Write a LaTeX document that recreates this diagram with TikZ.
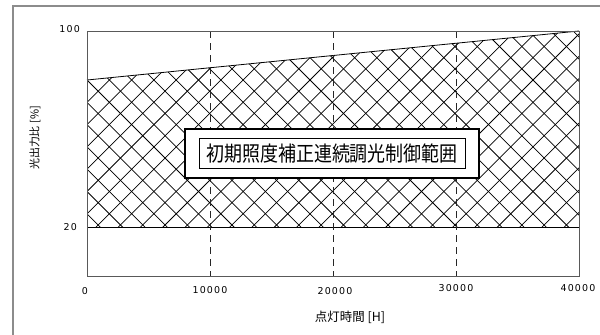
\documentclass[tikz,border=0pt]{standalone}
\usepackage{fontspec}
\newfontfamily\jpfont{Noto Sans CJK JP}
\newfontfamily\boxfont[FakeStretch=0.86]{Noto Sans CJK JP}
\newfontfamily\numfont[LetterSpace=12]{DejaVu Sans}
\usetikzlibrary{positioning}

\begin{document}
\begin{tikzpicture}[x=1bp, y=1bp,
    tick/.style={font=\numfont\fontsize{9.5}{10}\selectfont, inner sep=0pt},
    axislabel/.style={font=\jpfont\fontsize{12.5}{13}\selectfont, inner sep=0pt},
    hatchline/.style={black, line width=0.75bp},
    gridline/.style={black!85, line width=0.8bp, dash pattern=on 7bp off 5bp},
    axisbox/.style={draw=black!65, line width=0.9bp}]
    \useasboundingbox (-87,-58) rectangle (513,276);
    \draw[black!45, line width=1.3bp] (-74,-80) rectangle (530,270);

    % dimming range, cross hatched
    \begin{scope}
      \clip (0,49) -- (492,49) -- (492,245) -- (0,196) -- cycle;
      \foreach \k in {-12,...,34} {
        \draw[hatchline] (\k*22.3+4.7,0) -- ++(300,300);
        \draw[hatchline] (\k*22.3+17.6,0) -- ++(-300,300);
      }
    \end{scope}
    \draw[black, line width=0.8bp] (0,49) -- (492,49);
    \draw[black, line width=0.8bp] (0,196) -- (492,245);

    \foreach \x in {123,246,369}
      \draw[gridline] (\x,245) -- (\x,0);
    \draw[axisbox] (0,0) rectangle (492,245);

    \node[tick, anchor=east] (y100) at (-7,247) {100};
    \node[tick, anchor=east] (y20) at (-10,49) {20};

    \node[tick] (x0) at (-2,-15) {0};
    \node[tick] (x10) at (123,-14) {10000};
    \node[tick] (x20) at (248,-15) {20000};
    \node[tick] (x30) at (369,-12) {30000};
    \node[tick] (x40) at (491,-12) {40000};

    \node[axislabel] (xtitle) at (263,-41) {点灯時間 [H]};
    \node[axislabel, font=\jpfont\fontsize{11}{12}\selectfont, rotate=90] (ytitle) at (-52,138) {光出力比 [\%]};

    \node[draw, fill=white, line width=1.8bp, minimum width=294bp, minimum height=49bp] (frame) at (245,122.5) {};
    \node[draw, line width=0.8bp, minimum width=266bp, minimum height=30bp, inner sep=0pt,
          font=\boxfont\fontsize{21}{23}\selectfont] (range) at (frame.center) {初期照度補正連続調光制御範囲};

\end{tikzpicture}
\end{document}
